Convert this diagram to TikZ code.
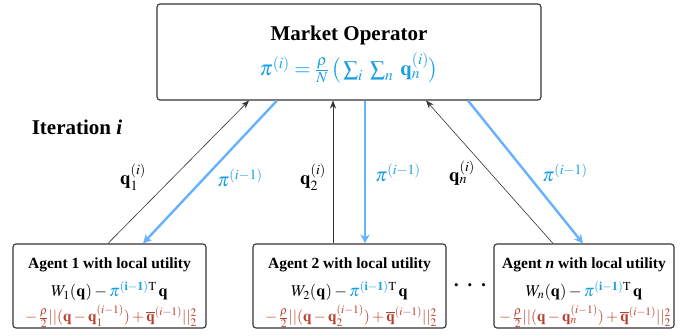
\documentclass[tikz,border=0pt]{standalone}
\usepackage{mathptmx}
\usepackage[no-math]{fontspec}
\setmainfont{Liberation Serif}
\usetikzlibrary{arrows.meta}
\definecolor{boxline}{HTML}{333333}
\definecolor{arrowblue}{HTML}{66B2FF}
\definecolor{textblue}{HTML}{1A9EE6}
\definecolor{textred}{HTML}{B8412E}
\begin{document}
\begin{tikzpicture}[x=1pt,y=-1pt,
  box/.style={draw=boxline, line width=1.1pt, rounded corners=3pt, fill=white, inner sep=0pt},
  qarrow/.style={draw=boxline, line width=0.6pt, -{Stealth[length=8pt,width=6pt]}},
  parrow/.style={draw=arrowblue, line width=2.4pt, -{Stealth[length=9pt,width=9pt]}},
  lbl/.style={inner sep=0pt, font=\fontsize{19}{22}\selectfont},
  agtitle/.style={inner sep=0pt, font=\fontsize{15.5}{18}\selectfont\bfseries},
  agmath/.style={inner sep=0pt, font=\fontsize{16.5}{19}\selectfont},
  agred/.style={inner sep=0pt, font=\fontsize{15.5}{18}\selectfont, text=textred},
]
\useasboundingbox (0,0) rectangle (694,335);

% Market operator
\node[box, minimum width=384pt, minimum height=96pt] (mo) at (349,52) {};
\node[inner sep=0pt, font=\fontsize{21}{25}\selectfont\bfseries] (motitle) at (349,35) {Market Operator};
\node[inner sep=0pt, font=\fontsize{21}{25}\selectfont, text=textblue] (moform) at (349,68)
  {$\pi^{(i)} = \frac{\rho}{N}\,\big(\sum_i\;\sum_n\;\mathbf{q}_n^{(i)}\big)$};

% Iteration label
\node[inner sep=0pt, font=\fontsize{21}{25}\selectfont\bfseries] (iter) at (77,127) {Iteration \textit{i}};

% Agents
\node[box, minimum width=193pt, minimum height=84pt] (a1) at (109.5,286) {};
\node[box, minimum width=193pt, minimum height=84pt] (a2) at (349.5,286) {};
\node[box, minimum width=180pt, minimum height=84pt] (an) at (584,286) {};

\node[agtitle] (a1t) at (109.5,265) {Agent 1 with local utility};
\node[agmath] (a1m) at (109.5,291) {$W_1(\mathbf{q}) - {\color{textblue}\pi^{\mathbf{(i-1)}}}^{\mathrm{T}}\,\mathbf{q}$};
\node[agred] (a1r) at (111,316) {$-\,\frac{\rho}{2}||(\mathbf{q}-\mathbf{q}_1^{(i-1)})+\overline{\mathbf{q}}^{(i-1)}||_2^2$};

\node[agtitle] (a2t) at (349.5,265) {Agent 2 with local utility};
\node[agmath] (a2m) at (349.5,291) {$W_2(\mathbf{q}) - {\color{textblue}\pi^{\mathbf{(i-1)}}}^{\mathrm{T}}\,\mathbf{q}$};
\node[agred] (a2r) at (351,316) {$-\,\frac{\rho}{2}||(\mathbf{q}-\mathbf{q}_2^{(i-1)})+\overline{\mathbf{q}}^{(i-1)}||_2^2$};

\node[agtitle] (ant) at (584,265) {Agent \textit{n} with local utility};
\node[agmath] (anm) at (584,291) {$W_n(\mathbf{q}) - {\color{textblue}\pi^{\mathbf{(i-1)}}}^{\mathrm{T}}\,\mathbf{q}$};
\node[agred] (anr) at (585,316) {$-\,\frac{\rho}{2}||(\mathbf{q}-\mathbf{q}_n^{(i-1)})+\overline{\mathbf{q}}^{(i-1)}||_2^2$};

% dots
\node[inner sep=0pt, font=\fontsize{13}{15}\selectfont] (dots) at (470,287) {\textbullet\hspace{9pt}\textbullet\hspace{9pt}\textbullet};

% connectors
\draw[qarrow] ([xshift=-1.5pt]a1.north) -- ([xshift=-100pt]mo.south);
\draw[parrow] ([xshift=-72pt]mo.south) -- ([xshift=33.5pt]a1.north);
\draw[qarrow] ([xshift=-16.5pt]a2.north) -- ([xshift=-16pt]mo.south);
\draw[parrow] ([xshift=16pt]mo.south) -- ([xshift=15.5pt]a2.north);
\draw[qarrow] ([xshift=-31pt]an.north) -- ([xshift=77pt]mo.south);
\draw[parrow] ([xshift=119pt]mo.south) -- ([xshift=-1pt]an.north);

% labels
\node[lbl] (l1) at (133,177) {$\mathbf{q}_1^{(i)}$};
\node[lbl, text=textblue] (l2) at (240,178) {$\pi^{(i-1)}$};
\node[lbl] (l3) at (313,177) {$\mathbf{q}_2^{(i)}$};
\node[lbl, text=textblue] (l4) at (398,173) {$\pi^{(i-1)}$};
\node[lbl] (l5) at (462,173) {$\mathbf{q}_n^{(i)}$};
\node[lbl, text=textblue] (l6) at (565,173) {$\pi^{(i-1)}$};
\end{tikzpicture}
\end{document}
